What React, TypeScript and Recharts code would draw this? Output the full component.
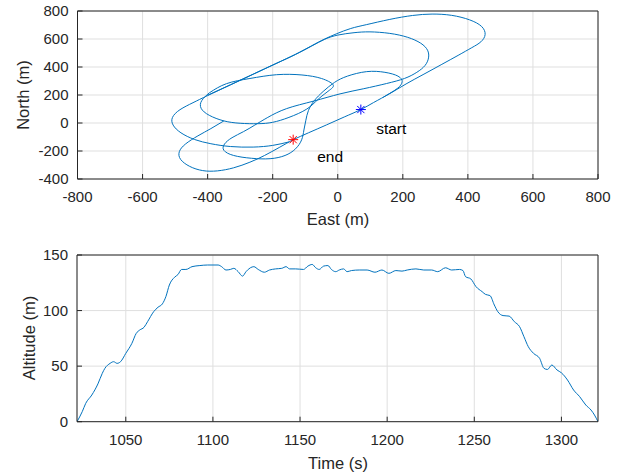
import React from 'react';
import { ComposedChart, Line, Scatter, XAxis, YAxis, CartesianGrid } from 'recharts';

// ---------- tick labels ----------
const eastTicks = [-800, -600, -400, -200, 0, 200, 400, 600, 800];
const northTicks = [-400, -200, 0, 200, 400, 600, 800];
const timeTicks = [1050, 1100, 1150, 1200, 1250, 1300];
const altTicks = [0, 50, 100, 150];

// ---------- ground track pieces (East, North in m) ----------
const outerEast = [-400, -330, -260, -190, -130, -80, -40, -3, 40, 89, 160, 230, 290, 350, 405, 442, 453, 440, 412, 370, 320, 265, 210, 160, 110, 71, 20, -35, -90, -137];
const outerNorth = [198, 273, 349, 425, 490, 552, 600, 638, 675, 703, 740, 768, 778, 769, 737, 690, 632, 580, 538, 483, 419, 349, 279, 210, 146, 96, 43, -14, -70, -119];

const innerEast = [-150, -200, -260, -330, -390, -440, -482, -506, -508, -485, -445, -400, -330, -260, -190, -130, -80, -40, 0, 50, 99, 160, 215, 255, 276, 279, 268, 243, 205, 150, 80, 7, -75, -157, -215, -255, -290, -325, -348, -350, -320, -265, -208, -162, -130, -111, -104, -98, -90, -72, -45, -10, 30, 89, 145, 185, 198, 185, 160, 140];
const innerNorth = [-135, -160, -172, -168, -148, -118, -70, -15, 40, 95, 145, 196, 272, 348, 424, 490, 550, 598, 628, 645, 651, 640, 612, 570, 520, 465, 410, 362, 318, 282, 245, 208, 156, 103, 40, -15, -62, -105, -150, -195, -232, -252, -255, -232, -185, -120, -50, 20, 90, 160, 225, 290, 335, 367, 362, 335, 295, 250, 212, 184];

const loopCEast = [-395, -342, -270, -188, -110, -50, -15, -25, -60, -95, -150, -200, -245, -300, -350, -395, -420, -418, -395];
const loopCNorth = [215, 281, 318, 345, 343, 318, 275, 235, 170, 100, 40, 5, -5, -2, 15, 55, 105, 160, 215];

const southEast = [-137, -180, -225, -270, -320, -370, -415, -455, -483, -487, -468, -430, -390, -350];
const southNorth = [-119, -175, -232, -280, -320, -342, -340, -310, -260, -205, -150, -92, -40, 15];

// ---------- markers ----------
const startPoint = { e: 71, n: 96 };
const endPoint = { e: -137, n: -119 };
const labelTexts = ['start', 'end'];
const labelEast = [118, -63];
const labelNorth = [-76, -279];

// ---------- altitude ----------
const timeS = [1022, 1025, 1027, 1030.5, 1034, 1036.5, 1038, 1041, 1043, 1045, 1047, 1050, 1053.5, 1056, 1058, 1060.5, 1062.5, 1066, 1068.5, 1071, 1073, 1075, 1078, 1080, 1082, 1084.5, 1088, 1092.5, 1097, 1103, 1105, 1107.5, 1110, 1112, 1114.5, 1117, 1119, 1121.5, 1123.5, 1126, 1129.5, 1132.5, 1136, 1139.5, 1142, 1144, 1147.5, 1152, 1154.5, 1157, 1159, 1161, 1163.5, 1166, 1168, 1170.5, 1172.5, 1175, 1177, 1179.5, 1184, 1188.5, 1193, 1197, 1201, 1205, 1208.5, 1211.5, 1216.5, 1221, 1225.5, 1229, 1233.5, 1237, 1241.5, 1243.5, 1245, 1248, 1251, 1254.5, 1256.5, 1259, 1261.5, 1263.5, 1266.5, 1270, 1273, 1276, 1278.5, 1281, 1284, 1287.5, 1290, 1292, 1294.5, 1297.5, 1300, 1303.5, 1307, 1310.5, 1314, 1317, 1319, 1321];
const altitudeM = [0, 9, 16.5, 24, 34, 43.5, 48, 52.5, 54, 52.5, 54, 61.5, 70.5, 79.5, 82.5, 85, 90, 99, 103, 106, 112.5, 123, 130, 132.5, 137, 137, 139.5, 140.5, 141, 141, 139.5, 136.5, 137, 138, 135, 131, 135, 138.5, 139.5, 137, 134.5, 136.5, 137.5, 138, 139.5, 137.5, 137.5, 137, 140, 141.5, 138.5, 137, 140, 140.5, 137, 135, 136.5, 137.5, 135, 136, 136.5, 136.5, 134.5, 136.5, 133.5, 136, 135.5, 136.5, 137.5, 136.5, 136.5, 135, 138.5, 136.5, 137, 136, 130.5, 128.5, 121.5, 117, 114.5, 113.5, 105, 99, 95.5, 95, 90, 85.5, 76.5, 67.5, 61.5, 57, 48, 47, 51, 46.5, 44, 37.5, 28.5, 22.5, 15, 10.5, 6, 0];

const pts = (e: number[], n: number[]) => e.map((v, i) => ({ e: v, n: n[i] }));
const altData = timeS.map((t, i) => ({ t, a: altitudeM[i] }));
const labelData = labelTexts.map((s, i) => ({ e: labelEast[i], n: labelNorth[i], s }));

const FONT = '"Liberation Sans", Arial, Helvetica, sans-serif';
const AX = '#262626';
const GRID = '#dfdfdf';
const LINE = '#0072BD';
const tickStyle = { fill: AX, fontSize: 15, fontFamily: FONT };

const Star = (color: string) => (p: any) => {
  const { cx, cy } = p;
  const r = 5;
  const d = 3.6;
  return (
    <g stroke={color} strokeWidth={1}>
      <line x1={cx - r} y1={cy} x2={cx + r} y2={cy} />
      <line x1={cx} y1={cy - r} x2={cx} y2={cy + r} />
      <line x1={cx - d} y1={cy - d} x2={cx + d} y2={cy + d} />
      <line x1={cx - d} y1={cy + d} x2={cx + d} y2={cy - d} />
    </g>
  );
};

const LabelShape = (p: any) => (
  <text x={p.cx} y={p.cy} fill="#000" fontSize={15.5} fontFamily={FONT}>
    {p.payload.s}
  </text>
);

const pieceProps = {
  dataKey: 'n',
  stroke: LINE,
  strokeWidth: 1,
  dot: false,
  activeDot: false,
  type: 'natural' as const,
  isAnimationActive: false,
};

export default function App() {
  return (
    <div style={{ position: 'absolute', left: 0, top: 0, width: 627, height: 475, background: '#fff' }}>
      <div style={{ position: 'absolute', left: 0, top: 0 }}>
        <ComposedChart width={627} height={230} margin={{ top: 10, right: 28, bottom: 21, left: 17.5 }}>
          <CartesianGrid stroke={GRID} strokeWidth={1} />
          <XAxis type="number" dataKey="e" domain={[-800, 800]} ticks={eastTicks} interval={0} allowDataOverflow
            height={30} tickSize={-5} tickMargin={17.5} tick={tickStyle} axisLine={{ stroke: AX }} tickLine={{ stroke: AX }} />
          <XAxis xAxisId="top" orientation="top" type="number" domain={[-800, 800]} ticks={eastTicks} interval={0} allowDataOverflow
            height={1} tickSize={-5} tick={false} axisLine={{ stroke: AX }} tickLine={{ stroke: AX }} />
          <YAxis type="number" domain={[-400, 800]} ticks={northTicks} interval={0} allowDataOverflow
            width={60} tickSize={-5} tickMargin={14} tick={tickStyle} axisLine={{ stroke: AX }} tickLine={{ stroke: AX }} />
          <YAxis yAxisId="right" orientation="right" type="number" domain={[-400, 800]} ticks={northTicks} interval={0} allowDataOverflow
            width={1} tickSize={-5} tick={false} axisLine={{ stroke: AX }} tickLine={{ stroke: AX }} />
          <Line data={pts(outerEast, outerNorth)} {...pieceProps} />
          <Line data={pts(innerEast, innerNorth)} {...pieceProps} />
          <Line data={pts(loopCEast, loopCNorth)} {...pieceProps} />
          <Line data={pts(southEast, southNorth)} {...pieceProps} />
          <Scatter data={[startPoint]} dataKey="n" shape={Star('#0000ff')} isAnimationActive={false} />
          <Scatter data={[endPoint]} dataKey="n" shape={Star('#ff0000')} isAnimationActive={false} />
          <Scatter data={labelData} dataKey="n" shape={LabelShape} isAnimationActive={false} />
        </ComposedChart>
      </div>
      <div style={{ position: 'absolute', left: 0, top: 230 }}>
        <ComposedChart width={627} height={245} data={altData} margin={{ top: 24, right: 28, bottom: 23.3, left: 17 }}>
          <CartesianGrid stroke={GRID} strokeWidth={1} />
          <XAxis type="number" dataKey="t" domain={[1022, 1321]} ticks={timeTicks} interval={0} allowDataOverflow
            height={30} tickSize={-5} tickMargin={17.5} tick={tickStyle} axisLine={{ stroke: AX }} tickLine={{ stroke: AX }} />
          <XAxis xAxisId="top" orientation="top" type="number" domain={[1022, 1321]} ticks={timeTicks} interval={0} allowDataOverflow
            height={1} tickSize={-5} tick={false} axisLine={{ stroke: AX }} tickLine={{ stroke: AX }} />
          <YAxis type="number" domain={[0, 150]} ticks={altTicks} interval={0} allowDataOverflow
            width={60} tickSize={-5} tickMargin={14} tick={tickStyle} axisLine={{ stroke: AX }} tickLine={{ stroke: AX }} />
          <YAxis yAxisId="right" orientation="right" type="number" domain={[0, 150]} ticks={altTicks} interval={0} allowDataOverflow
            width={1} tickSize={-5} tick={false} axisLine={{ stroke: AX }} tickLine={{ stroke: AX }} />
          <Line dataKey="a" type="monotone" stroke={LINE} strokeWidth={1} dot={false} activeDot={false} isAnimationActive={false} />
        </ComposedChart>
      </div>
      <svg width={627} height={475} style={{ position: 'absolute', left: 0, top: 0, pointerEvents: 'none' }}>
        <g fontFamily={FONT} fontSize={16.5} fill={AX} textAnchor="middle" dominantBaseline="central">
          <text x={23} y={95} transform="rotate(-90 23 95)">North (m)</text>
          <text x={338} y={219}>East (m)</text>
          <text x={29} y={338} transform="rotate(-90 29 338)">Altitude (m)</text>
          <text x={338} y={463}>Time (s)</text>
        </g>
      </svg>
    </div>
  );
}
